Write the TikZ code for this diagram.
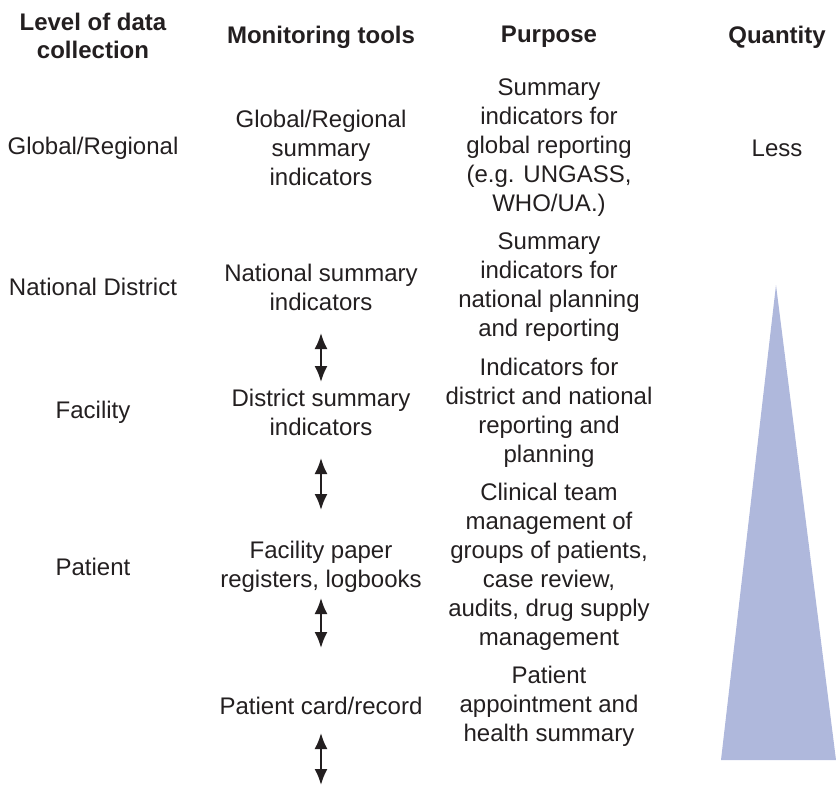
\documentclass[tikz,border=0pt]{standalone}
\usepackage{fontspec}
\setmainfont{Liberation Sans}
\usepackage{tikz}
\usetikzlibrary{arrows.meta, positioning}

\definecolor{txtgray}{HTML}{231F20}
\definecolor{wedgeblue}{HTML}{AFB8DC}

\tikzset{
  cell/.style={align=center, inner sep=0pt, text=txtgray, font=\fontsize{24}{29}\selectfont},
  head/.style={cell, font=\fontsize{24}{28}\selectfont\bfseries},
  updown/.style={{Latex[length=16pt,width=13pt]}-{Latex[length=16pt,width=13pt]}, line width=2pt, txtgray}
}

\begin{document}
\begin{tikzpicture}[x=1pt, y=-1pt]
            \useasboundingbox (0,0) rectangle (836,785);

            % Column headings
            \node[head] (hlevel) at (93,36) {Level of data\\collection};
            \node[head] (htools) at (321,37) {Monitoring tools};
            \node[head] (hpurp) at (549,37) {Purpose};
            \node[head] (hqty) at (777,37) {Quantity};

            % Level of data collection
            \node[cell] (lglob) at (93,148) {Global/Regional};
            \node[cell] (lnat) at (93,287) {National District};
            \node[cell] (lfac) at (93,412) {Facility};
            \node[cell] (lpat) at (93,567) {Patient};

            % Monitoring tools
            \node[cell] (tglob) at (321,148) {Global/Regional\\summary\\indicators};
            \node[cell] (tnat) at (321,287.5) {National summary\\indicators};
            \node[cell] (tdist) at (321,412.5) {District summary\\indicators};
            \node[cell] (tfac) at (321,566.5) {Facility paper\\registers, logbooks};
            \node[cell] (tcard) at (321,706) {Patient card/record};
            \coordinate (tend) at (321,785);

            % Purpose
            \node[cell] (pglob) at (549,148) {Summary\\indicators for\\global reporting\\(e.g. UNGASS,\\WHO/UA.)};
            \node[cell] (pnat) at (549,287.5) {Summary\\indicators for\\national planning\\and reporting};
            \node[cell] (pdist) at (549,412.5) {Indicators for\\district and national\\reporting and\\planning};
            \node[cell] (pfac) at (549,566.5) {Clinical team\\management of\\groups of patients,\\case review,\\audits, drug supply\\management};
            \node[cell] (pcard) at (549,706) {Patient\\appointment and\\health summary};

            % Quantity
            \node[cell] (qless) at (777,148) {Less};
            \fill[wedgeblue] (776,285) -- (836,760) -- (721,760) -- cycle;

            % Arrows between tools
            \draw[updown, shorten <=45.5pt, shorten >=30.5pt] (tnat.center) -- (tdist.center);
            \draw[updown, shorten <=45.5pt, shorten >=56.5pt] (tdist.center) -- (tfac.center);
            \draw[updown, shorten <=31.5pt, shorten >=58pt] (tfac.center) -- (tcard.center);
            \draw[updown, shorten <=27pt] (tcard.center) -- (tend);
\end{tikzpicture}
\end{document}
